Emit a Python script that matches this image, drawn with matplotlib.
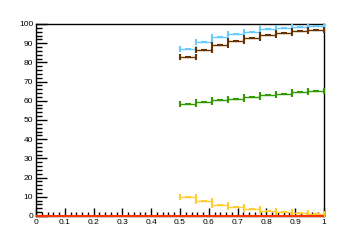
import numpy as np
import matplotlib
matplotlib.use('Agg')
import matplotlib.pyplot as plt
from matplotlib.ticker import MultipleLocator

plt.rcParams['font.family'] = ['Liberation Sans', 'DejaVu Sans']

# 9 bins from 0.5 to 1.0
edges = [0.5, 0.5556, 0.6111, 0.6667, 0.7222, 0.7778, 0.8333, 0.8889, 0.9444, 1.0]
blue = [86.8, 90.4, 93.1, 94.6, 95.7, 97.2, 97.8, 98.4, 99.0]
brown = [82.6, 86.3, 88.9, 91.0, 92.5, 94.1, 95.2, 96.2, 96.7]
green = [58.2, 59.2, 60.3, 60.8, 61.8, 62.9, 63.4, 64.4, 65.1]
yellow = [9.9, 7.6, 5.6, 4.5, 3.5, 2.8, 1.9, 1.4, 1.1]
red_edges = [0.0, 1.0]
red = [0.0]

series = [
    (blue, '#66ccff'),
    (brown, '#663300'),
    (green, '#339900'),
    (yellow, '#ffcc33'),
]

fig = plt.figure(figsize=(3.6, 2.4), dpi=100)
ax = fig.add_axes([0.1, 0.1, 0.8, 0.8])

e = np.array(edges)
centers = (e[:-1] + e[1:]) / 2
half = (e[1:] - e[:-1]) / 2

for vals, col in series:
    ax.errorbar(centers, vals, xerr=half, fmt='_', color=col, ms=4, mew=1.5,
                elinewidth=1.0, capsize=2, capthick=1.0, zorder=3)

re = np.array(red_edges)
ax.errorbar((re[:-1] + re[1:]) / 2, red, xerr=(re[1:] - re[:-1]) / 2, fmt='none',
            color='#ff3300', elinewidth=1.5, capsize=0, zorder=5, clip_on=False)

ax.set_xlim(0, 1)
ax.set_ylim(0, 100)
ax.xaxis.set_major_locator(MultipleLocator(0.1))
ax.xaxis.set_minor_locator(MultipleLocator(0.02))
ax.yaxis.set_major_locator(MultipleLocator(10))
ax.yaxis.set_minor_locator(MultipleLocator(2))
ax.xaxis.set_major_formatter(plt.FuncFormatter(lambda v, p: '%g' % round(v, 2)))

ax.tick_params(axis='x', which='major', direction='in', length=6, width=1, labelsize=6, pad=2)
ax.tick_params(axis='x', which='minor', direction='in', length=3, width=1)
ax.tick_params(axis='y', which='major', direction='in', length=8, width=1, labelsize=6, pad=2)
ax.tick_params(axis='y', which='minor', direction='in', length=4, width=1)
for s in ax.spines.values():
    s.set_linewidth(1)

fig.savefig('out.png', dpi=100)
